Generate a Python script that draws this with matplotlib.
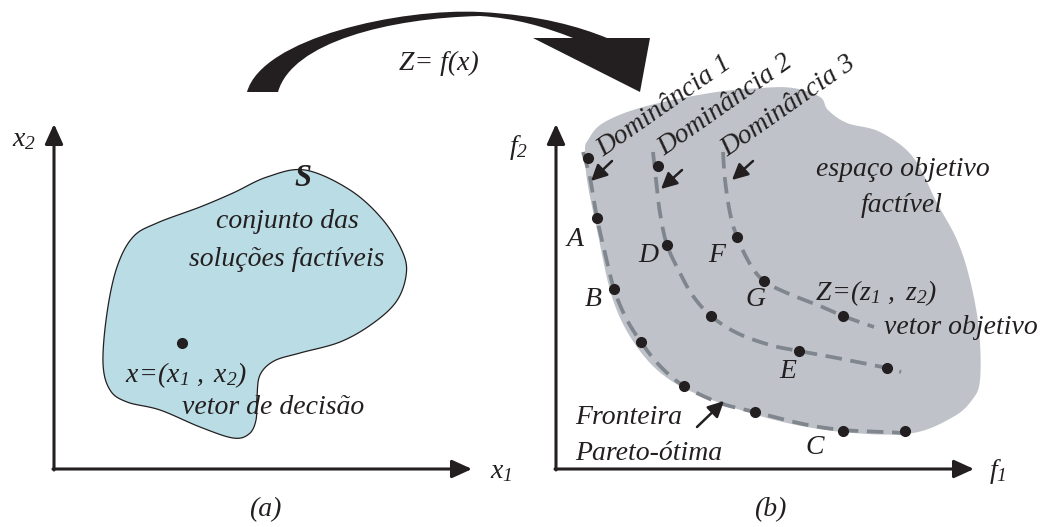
import numpy as np
import matplotlib
matplotlib.use("Agg")
import matplotlib.pyplot as plt
from matplotlib.path import Path
from matplotlib.patches import PathPatch, Polygon

plt.rcParams['font.family'] = ['Liberation Serif', 'DejaVu Serif']
plt.rcParams['mathtext.fontset'] = 'custom'
plt.rcParams['mathtext.rm'] = 'Liberation Serif:italic'
plt.rcParams['mathtext.it'] = 'Liberation Serif:italic'
plt.rcParams['mathtext.bf'] = 'Liberation Serif:bold:italic'

INK = '#231f20'
BLUE = '#b9dce5'
GREY_SPACE = '#bfc3c9'
GREY_DASH = '#80868d'
FS = 20

# decision space (a): outline of the feasible set S
set_s = [(305, 170), (350, 190), (383, 220), (403, 253), (406, 276), (396, 302),
         (372, 324), (340, 342), (300, 353), (274, 361), (260, 375), (257, 397),
         (256, 420), (249, 434), (233, 438), (200, 427), (160, 410), (127, 402),
         (110, 390), (103, 363), (107, 313), (117, 267), (133, 237), (157, 223),
         (200, 207), (233, 193), (267, 177)]
decision_point = (182, 343)

# objective space (b): outline of the feasible region
obj_space = [(588, 140), (603, 123), (643, 107), (710, 93), (760, 88), (793, 88),
             (820, 97), (828, 110), (847, 123), (880, 132), (913, 157), (937, 203),
             (957, 240), (970, 280), (979, 330), (980, 380), (972, 400), (953, 417),
             (913, 433), (853, 433), (787, 423), (720, 403), (670, 380), (637, 347),
             (613, 300), (597, 230), (587, 180), (585, 150)]

# dominance fronts (dashed) and the solutions on them
front1 = [(583, 152), (590, 178), (597, 218), (605, 253), (614, 289), (626, 318),
          (641, 342), (660, 366), (684, 386), (720, 403), (755, 412), (803, 424),
          (843, 430), (887, 432), (914, 434)]
front1_pts = [(588, 158), (597, 218), (614, 289), (641, 342), (684, 386),
              (755, 412), (843, 431), (905, 431)]
front2 = [(653, 152), (656, 180), (660, 213), (667, 245), (680, 273), (693, 296),
          (711, 316), (737, 333), (770, 345), (799, 351), (837, 358), (887, 368),
          (901, 372)]
front2_pts = [(658, 166), (667, 245), (711, 316), (799, 351), (887, 368)]
front3 = [(723, 152), (725, 180), (730, 213), (737, 237), (750, 264), (764, 281),
          (787, 293), (820, 306), (843, 316), (874, 327)]
front3_pts = [(737, 237), (764, 281), (843, 316)]

dominance_labels = ['Dominância 1', 'Dominância 2', 'Dominância 3']
dominance_anchor = [(603, 157), (664, 156), (727, 157)]
dominance_arrows = [((612, 161), (591, 181)), ((682, 170), (661, 189)),
                    ((753, 161), (732, 180))]

point_labels = ['A', 'B', 'D', 'F', 'G', 'E', 'C']
point_label_xy = [(575, 240), (593, 300), (648, 255), (717, 255), (755, 300),
                  (788, 372), (815, 447)]


def catmull(pts, n=24, closed=False):
    p = np.asarray(pts, float)
    if closed:
        p = np.vstack([p[-1], p, p[0], p[1]])
    else:
        p = np.vstack([p[0], p, p[-1]])
    t = np.linspace(0, 1, n, endpoint=False)[:, None]
    out = []
    for i in range(1, len(p) - 2):
        p0, p1, p2, p3 = p[i - 1], p[i], p[i + 1], p[i + 2]
        out.append(0.5 * (2 * p1 + (-p0 + p2) * t + (2 * p0 - 5 * p1 + 4 * p2 - p3) * t ** 2
                          + (-p0 + 3 * p1 - 3 * p2 + p3) * t ** 3))
    out.append(p[-2][None])
    return np.vstack(out)


def axis_arrow(ax, start, end):
    ax.annotate('', xy=end, xytext=start,
                arrowprops=dict(arrowstyle='-|>,head_length=0.55,head_width=0.25',
                                lw=2.2, color=INK, mutation_scale=22,
                                shrinkA=0, shrinkB=0))


def small_arrow(ax, start, end):
    ax.annotate('', xy=end, xytext=start,
                arrowprops=dict(arrowstyle='-|>,head_length=0.6,head_width=0.3',
                                lw=1.8, color=INK, mutation_scale=16,
                                shrinkA=0, shrinkB=0))


fig = plt.figure(figsize=(10.44, 5.27), dpi=100)
ax = fig.add_axes([0, 0, 1, 1])
ax.set_xlim(0, 1044)
ax.set_ylim(527, 0)
ax.axis('off')

# ---- panel (a)
s_curve = catmull(set_s, closed=True)
ax.add_patch(Polygon(s_curve, closed=True, facecolor=BLUE, edgecolor=INK, lw=0.9))
ax.plot(*decision_point, 'o', color=INK, ms=7)

axis_arrow(ax, (54, 470), (54, 124))
axis_arrow(ax, (53, 469), (472, 469))
ax.text(24, 140, r'$x_2$', fontsize=FS, color=INK, ha='center', va='center')
ax.text(501, 472, r'$x_1$', fontsize=FS, color=INK, ha='center', va='center')
ax.text(265, 510, '(a)', fontsize=FS, style='italic', color=INK, ha='center', va='center')

ax.text(303, 178, 'S', fontsize=22, style='italic', weight='bold', color=INK,
        ha='center', va='center')
ax.text(287, 222, 'conjunto das', fontsize=FS, style='italic', color=INK,
        ha='center', va='center')
ax.text(287, 259, 'soluções factíveis', fontsize=FS, style='italic', color=INK,
        ha='center', va='center')
ax.text(125, 375, r'$x\!=\!(x_1\ ,\ x_2)$', fontsize=FS, color=INK,
        ha='left', va='center')
ax.text(273, 408, 'vetor de decisão', fontsize=FS, style='italic', color=INK,
        ha='center', va='center')

# ---- mapping arrow Z = f(x)
V = [(247, 92), (262, 38), (400, 8), (480, 12),
     (540, 15), (580, 27), (607, 38),
     (573, 38),
     (545, 27), (515, 18), (480, 16),
     (390, 18), (292, 42), (278, 92),
     (247, 92)]
C = [Path.MOVETO, Path.CURVE4, Path.CURVE4, Path.CURVE4,
     Path.CURVE4, Path.CURVE4, Path.CURVE4,
     Path.LINETO,
     Path.CURVE4, Path.CURVE4, Path.CURVE4,
     Path.CURVE4, Path.CURVE4, Path.CURVE4,
     Path.CLOSEPOLY]
ax.add_patch(PathPatch(Path(V, C), facecolor=INK, edgecolor='none'))
ax.add_patch(Polygon([(533, 38), (650, 38), (640, 92)], closed=True,
                     facecolor=INK, edgecolor='none'))
ax.text(439, 63, 'Z= f(x)', fontsize=FS, style='italic', color=INK,
        ha='center', va='center')

# ---- panel (b)
ax.add_patch(Polygon(catmull(obj_space, closed=True), closed=True,
                     facecolor=GREY_SPACE, edgecolor='none'))

for front, pts in [(front1, front1_pts), (front2, front2_pts), (front3, front3_pts)]:
    c = catmull(front)
    ax.plot(c[:, 0], c[:, 1], color=GREY_DASH, lw=2.7, ls=(0, (4.4, 2.3)),
            solid_capstyle='butt', dash_capstyle='butt')
    xy = np.array(pts)
    ax.plot(xy[:, 0], xy[:, 1], 'o', color=INK, ms=7, zorder=5)

axis_arrow(ax, (556, 470), (556, 124))
axis_arrow(ax, (555, 469), (974, 469))
ax.text(519, 148, r'$f_2$', fontsize=FS, color=INK, ha='center', va='center')
ax.text(998, 472, r'$f_1$', fontsize=FS, color=INK, ha='center', va='center')
ax.text(770, 510, '(b)', fontsize=FS, style='italic', color=INK, ha='center', va='center')

for lab, (x, y) in zip(dominance_labels, dominance_anchor):
    ax.text(x, y, lab, fontsize=FS, style='italic', color=INK, rotation=35,
            rotation_mode='anchor', ha='left', va='baseline')
for start, end in dominance_arrows:
    small_arrow(ax, start, end)

for lab, (x, y) in zip(point_labels, point_label_xy):
    ax.text(x, y, lab, fontsize=FS, style='italic', color=INK, ha='center', va='center')

ax.text(903, 170, 'espaço objetivo', fontsize=FS, style='italic', color=INK,
        ha='center', va='center')
ax.text(902, 206, 'factível', fontsize=FS, style='italic', color=INK,
        ha='center', va='center')
ax.text(815, 293, r'$Z\!=\!(z_1\ ,\ z_2)$', fontsize=FS, color=INK,
        ha='left', va='center')
ax.text(961, 328, 'vetor objetivo', fontsize=FS, style='italic', color=INK,
        ha='center', va='center')
ax.text(575, 417, 'Fronteira', fontsize=FS, style='italic', color=INK,
        ha='left', va='center')
ax.text(575, 453, 'Pareto-ótima', fontsize=FS, style='italic', color=INK,
        ha='left', va='center')
small_arrow(ax, (697, 427), (724, 401))

fig.savefig('out.png', dpi=100)
